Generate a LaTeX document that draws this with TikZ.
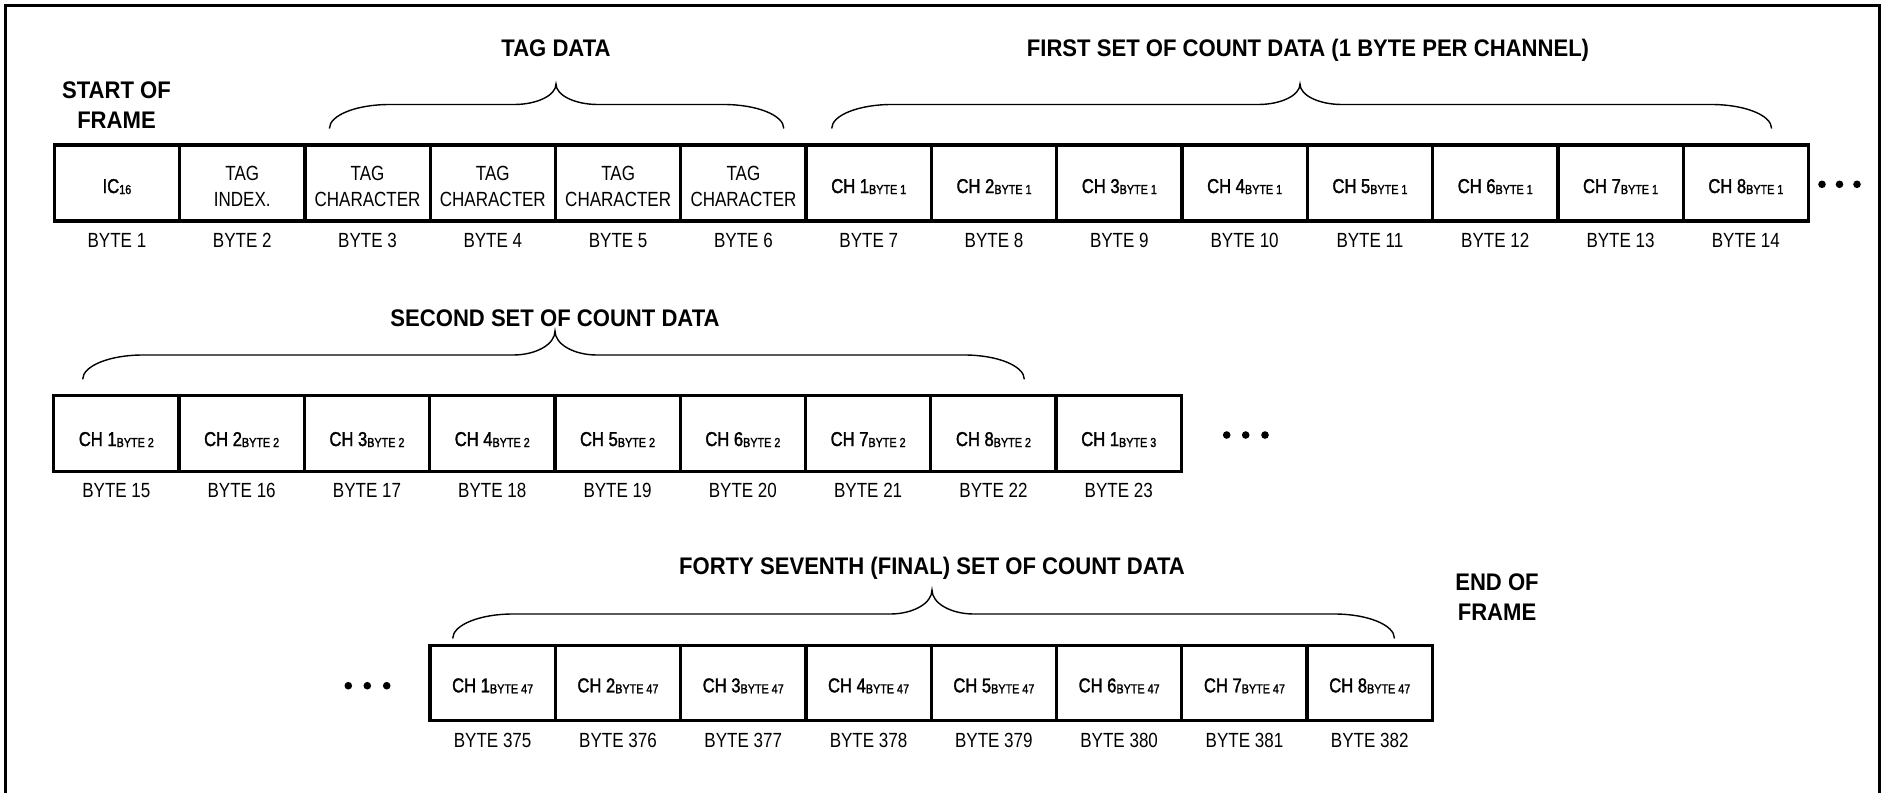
\documentclass[tikz,border=0pt]{standalone}
\usepackage{fontspec}
\newfontfamily\regf[FakeStretch=0.83]{Liberation Sans}
\newfontfamily\medf[FakeStretch=0.83,FakeBold=1.6]{Liberation Sans}
\newfontfamily\headf[FakeStretch=0.92]{Liberation Sans}
\newcommand\subtx[1]{\raisebox{-1pt}{\fontsize{13}{13}\selectfont #1}}
\newcommand\drawbrace[6]{%
  \draw[bracestyle] (#1,#4) .. controls (#1,{#4-0.552*(#4-#5)}) and ({#1+60-0.552*60},#5) .. ({#1+60},#5)
    -- ({#2-42},#5) .. controls ({#2-42+0.552*42},#5) and (#2,{#6+0.552*(#5-#6)}) .. (#2,#6)
    .. controls (#2,{#6+0.552*(#5-#6)}) and ({#2+42-0.552*42},#5) .. ({#2+42},#5)
    -- ({#3-60},#5) .. controls ({#3-60+0.552*60},#5) and (#3,{#4-0.552*(#4-#5)}) .. (#3,#4);}
\begin{document}
\begin{tikzpicture}[x=1pt,y=-1pt,
  cell/.style={draw, line width=3.3pt, minimum width=125.3pt, inner sep=0pt, outer sep=0pt},
  txt/.style={font=\regf\fontsize{20.5}{25}\selectfont, inner sep=0pt, anchor=base},
  chs/.style={font=\medf\fontsize{20}{24}\selectfont, inner sep=0pt, anchor=base},
  head/.style={font=\headf\bfseries\fontsize{24}{30}\selectfont, inner sep=0pt, anchor=base},
  bracestyle/.style={line width=1.4pt},
  dotstyle/.style={fill=black}]
\useasboundingbox (0,0) rectangle (1885,793);
% outer frame (open at bottom)
\draw[line width=2.5pt] (5.5,793) -- (5.5,5.5) -- (1879.5,5.5) -- (1879.5,793);

% ---------- Row 1 ----------
\foreach \i in {1,...,14}
  \node[cell, minimum height=76pt] (a\i) at ({54.3+(\i-0.5)*125.3},183) {};
\node[chs, yshift=-10pt] (at1) at (a1.center) {IC\subtx{16}};
\node[txt, yshift=2.5pt] (at2a) at (a2.center) {TAG};
\node[txt, yshift=-23pt] (at2b) at (a2.center) {INDEX.};
\foreach \i in {3,...,6} {
  \node[txt, yshift=2.5pt] (at\i a) at (a\i.center) {TAG};
  \node[txt, yshift=-23pt] (at\i b) at (a\i.center) {CHARACTER};
}
\foreach \i [evaluate=\i as \k using int(\i-6)] in {7,...,14}
  \node[chs, yshift=-10pt] (at\i) at (a\i.center) {CH \k\subtx{BYTE 1}};
\foreach \i in {1,...,14}
  \node[txt, yshift=-64.5pt] (ab\i) at (a\i.center) {BYTE \i};
\fill[dotstyle] (1822,184.3) circle (3.8) (1839.5,184.3) circle (3.8) (1857,184.3) circle (3.8);

\node[head] (sof1) at (116.5,98.3) {START OF};
\node[head] (sof2) at (116.5,128) {FRAME};
\node[head] (tagd) at (556,56.6) {TAG DATA};
\node[head] (first) at (1308,56.6) {FIRST SET OF COUNT DATA (1 BYTE PER CHANNEL)};
\drawbrace{329.4}{556}{783.8}{128.5}{104.5}{84}
\drawbrace{831.7}{1300}{1771.6}{128.5}{104.5}{84}

% ---------- Row 2 ----------
\foreach \i in {1,...,9}
  \node[cell, minimum height=76.4pt] (b\i) at ({53.7+(\i-0.5)*125.3},433.5) {};
\foreach \i in {1,...,8}
  \node[chs, yshift=-12.5pt] (bt\i) at (b\i.center) {CH \i\subtx{BYTE 2}};
\node[chs, yshift=-12.5pt] (bt9) at (b9.center) {CH 1\subtx{BYTE 3}};
\foreach \i [evaluate=\i as \n using int(\i+14)] in {1,...,9}
  \node[txt, yshift=-64pt] (bb\i) at (b\i.center) {BYTE \n};
\fill[dotstyle] (1226.7,435) circle (3.8) (1245.7,435) circle (3.8) (1265,435) circle (3.8);
\node[head] (second) at (555,326) {SECOND SET OF COUNT DATA};
\drawbrace{82.7}{555}{1024.3}{379.3}{355}{331}

% ---------- Row 3 ----------
\foreach \i in {1,...,8}
  \node[cell, minimum height=75pt] (c\i) at ({430+(\i-0.5)*125.3},682.8) {};
\foreach \i in {1,...,8}
  \node[chs, yshift=-9.5pt] (ct\i) at (c\i.center) {CH \i\subtx{BYTE 47}};
\foreach \i [evaluate=\i as \n using int(\i+374)] in {1,...,8}
  \node[txt, yshift=-64.2pt] (cb\i) at (c\i.center) {BYTE \n};
\fill[dotstyle] (348.3,685.7) circle (3.8) (367.3,685.7) circle (3.8) (386.7,685.7) circle (3.8);
\node[head] (forty) at (932,574.6) {FORTY SEVENTH (FINAL) SET OF COUNT DATA};
\drawbrace{452.7}{932}{1394.5}{638.5}{614}{590}
\node[head] (eof1) at (1497,590.6) {END OF};
\node[head] (eof2) at (1497,620.6) {FRAME};
\end{tikzpicture}
\end{document}
